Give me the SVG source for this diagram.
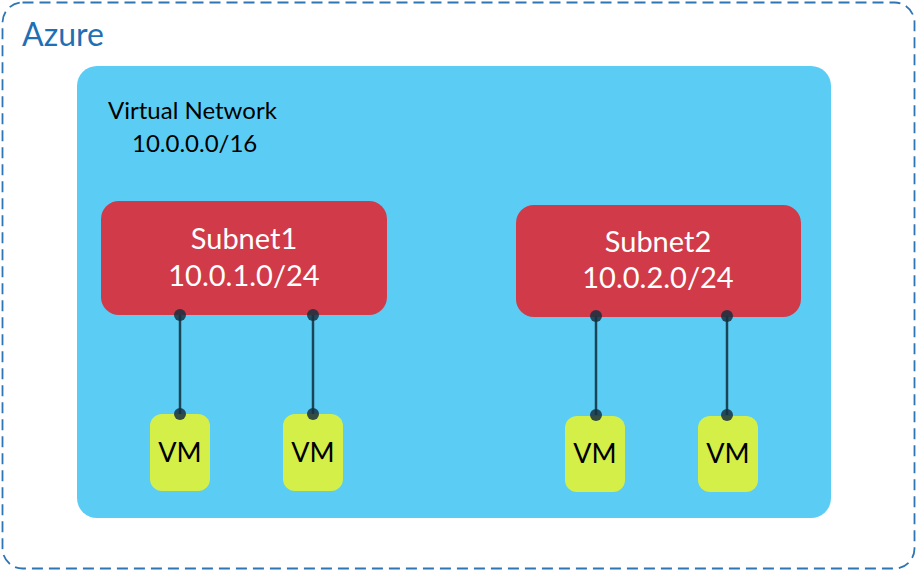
<svg xmlns="http://www.w3.org/2000/svg" width="917" height="571" viewBox="0 0 917 571">
<style>
.t{font-family:Lato,"Liberation Sans",sans-serif}
.sub{fill:#d13a48}
.sublbl{font-size:29px;fill:#ffffff;text-anchor:middle}
.vm{fill:#d4ef47}
.vmlbl{font-size:27px;fill:#000000;text-anchor:middle}
.wire{stroke:#1c4457;stroke-width:2.5;fill:none}
.dot{fill:#17303f;fill-opacity:0.85}
</style>
<g id="azure">
<rect x="2.5" y="2.5" width="912" height="566" rx="20" fill="#ffffff" stroke="#2e75b6" stroke-width="1.8" stroke-dasharray="11 6"/>
<text class="t" x="22" y="46" font-size="32" fill="#1f6fb5">Azure</text>
</g>
<g id="vnet">
<rect x="77" y="66" width="754" height="452" rx="20" fill="#5bcdf4"/>
<text class="t" x="108" y="119" font-size="24" fill="#000000">Virtual Network</text>
<text class="t" x="132" y="152" font-size="24" fill="#000000">10.0.0.0/16</text>
</g>
<g id="subnet1">
<rect class="sub" x="101" y="201" width="286" height="114" rx="18"/>
<text class="t sublbl" x="244" y="249">Subnet1</text>
<text class="t sublbl" x="244" y="286">10.0.1.0/24</text>
</g>
<g id="subnet2">
<rect class="sub" x="516" y="205" width="285" height="112" rx="18"/>
<text class="t sublbl" x="658" y="252">Subnet2</text>
<text class="t sublbl" x="658" y="288">10.0.2.0/24</text>
</g>
<g id="vm1">
<rect class="vm" x="150" y="414" width="60" height="77" rx="12"/>
<text class="t vmlbl" x="180" y="462">VM</text>
</g>
<g id="vm2">
<rect class="vm" x="283" y="414" width="60" height="77" rx="12"/>
<text class="t vmlbl" x="313" y="462">VM</text>
</g>
<g id="vm3">
<rect class="vm" x="565" y="416" width="60" height="76" rx="12"/>
<text class="t vmlbl" x="595" y="463">VM</text>
</g>
<g id="vm4">
<rect class="vm" x="698" y="416" width="60" height="76" rx="12"/>
<text class="t vmlbl" x="728" y="463">VM</text>
</g>
<g id="connectors">
<line class="wire" x1="180" y1="315" x2="180" y2="414"/>
<circle class="dot" cx="180" cy="315" r="6"/>
<circle class="dot" cx="180" cy="414" r="6"/>
<line class="wire" x1="313" y1="315" x2="313" y2="414"/>
<circle class="dot" cx="313" cy="315" r="6"/>
<circle class="dot" cx="313" cy="414" r="6"/>
<line class="wire" x1="596" y1="316" x2="596" y2="415"/>
<circle class="dot" cx="596" cy="316" r="6"/>
<circle class="dot" cx="596" cy="415" r="6"/>
<line class="wire" x1="727" y1="316" x2="727" y2="415"/>
<circle class="dot" cx="727" cy="316" r="6"/>
<circle class="dot" cx="727" cy="415" r="6"/>
</g>
</svg>
